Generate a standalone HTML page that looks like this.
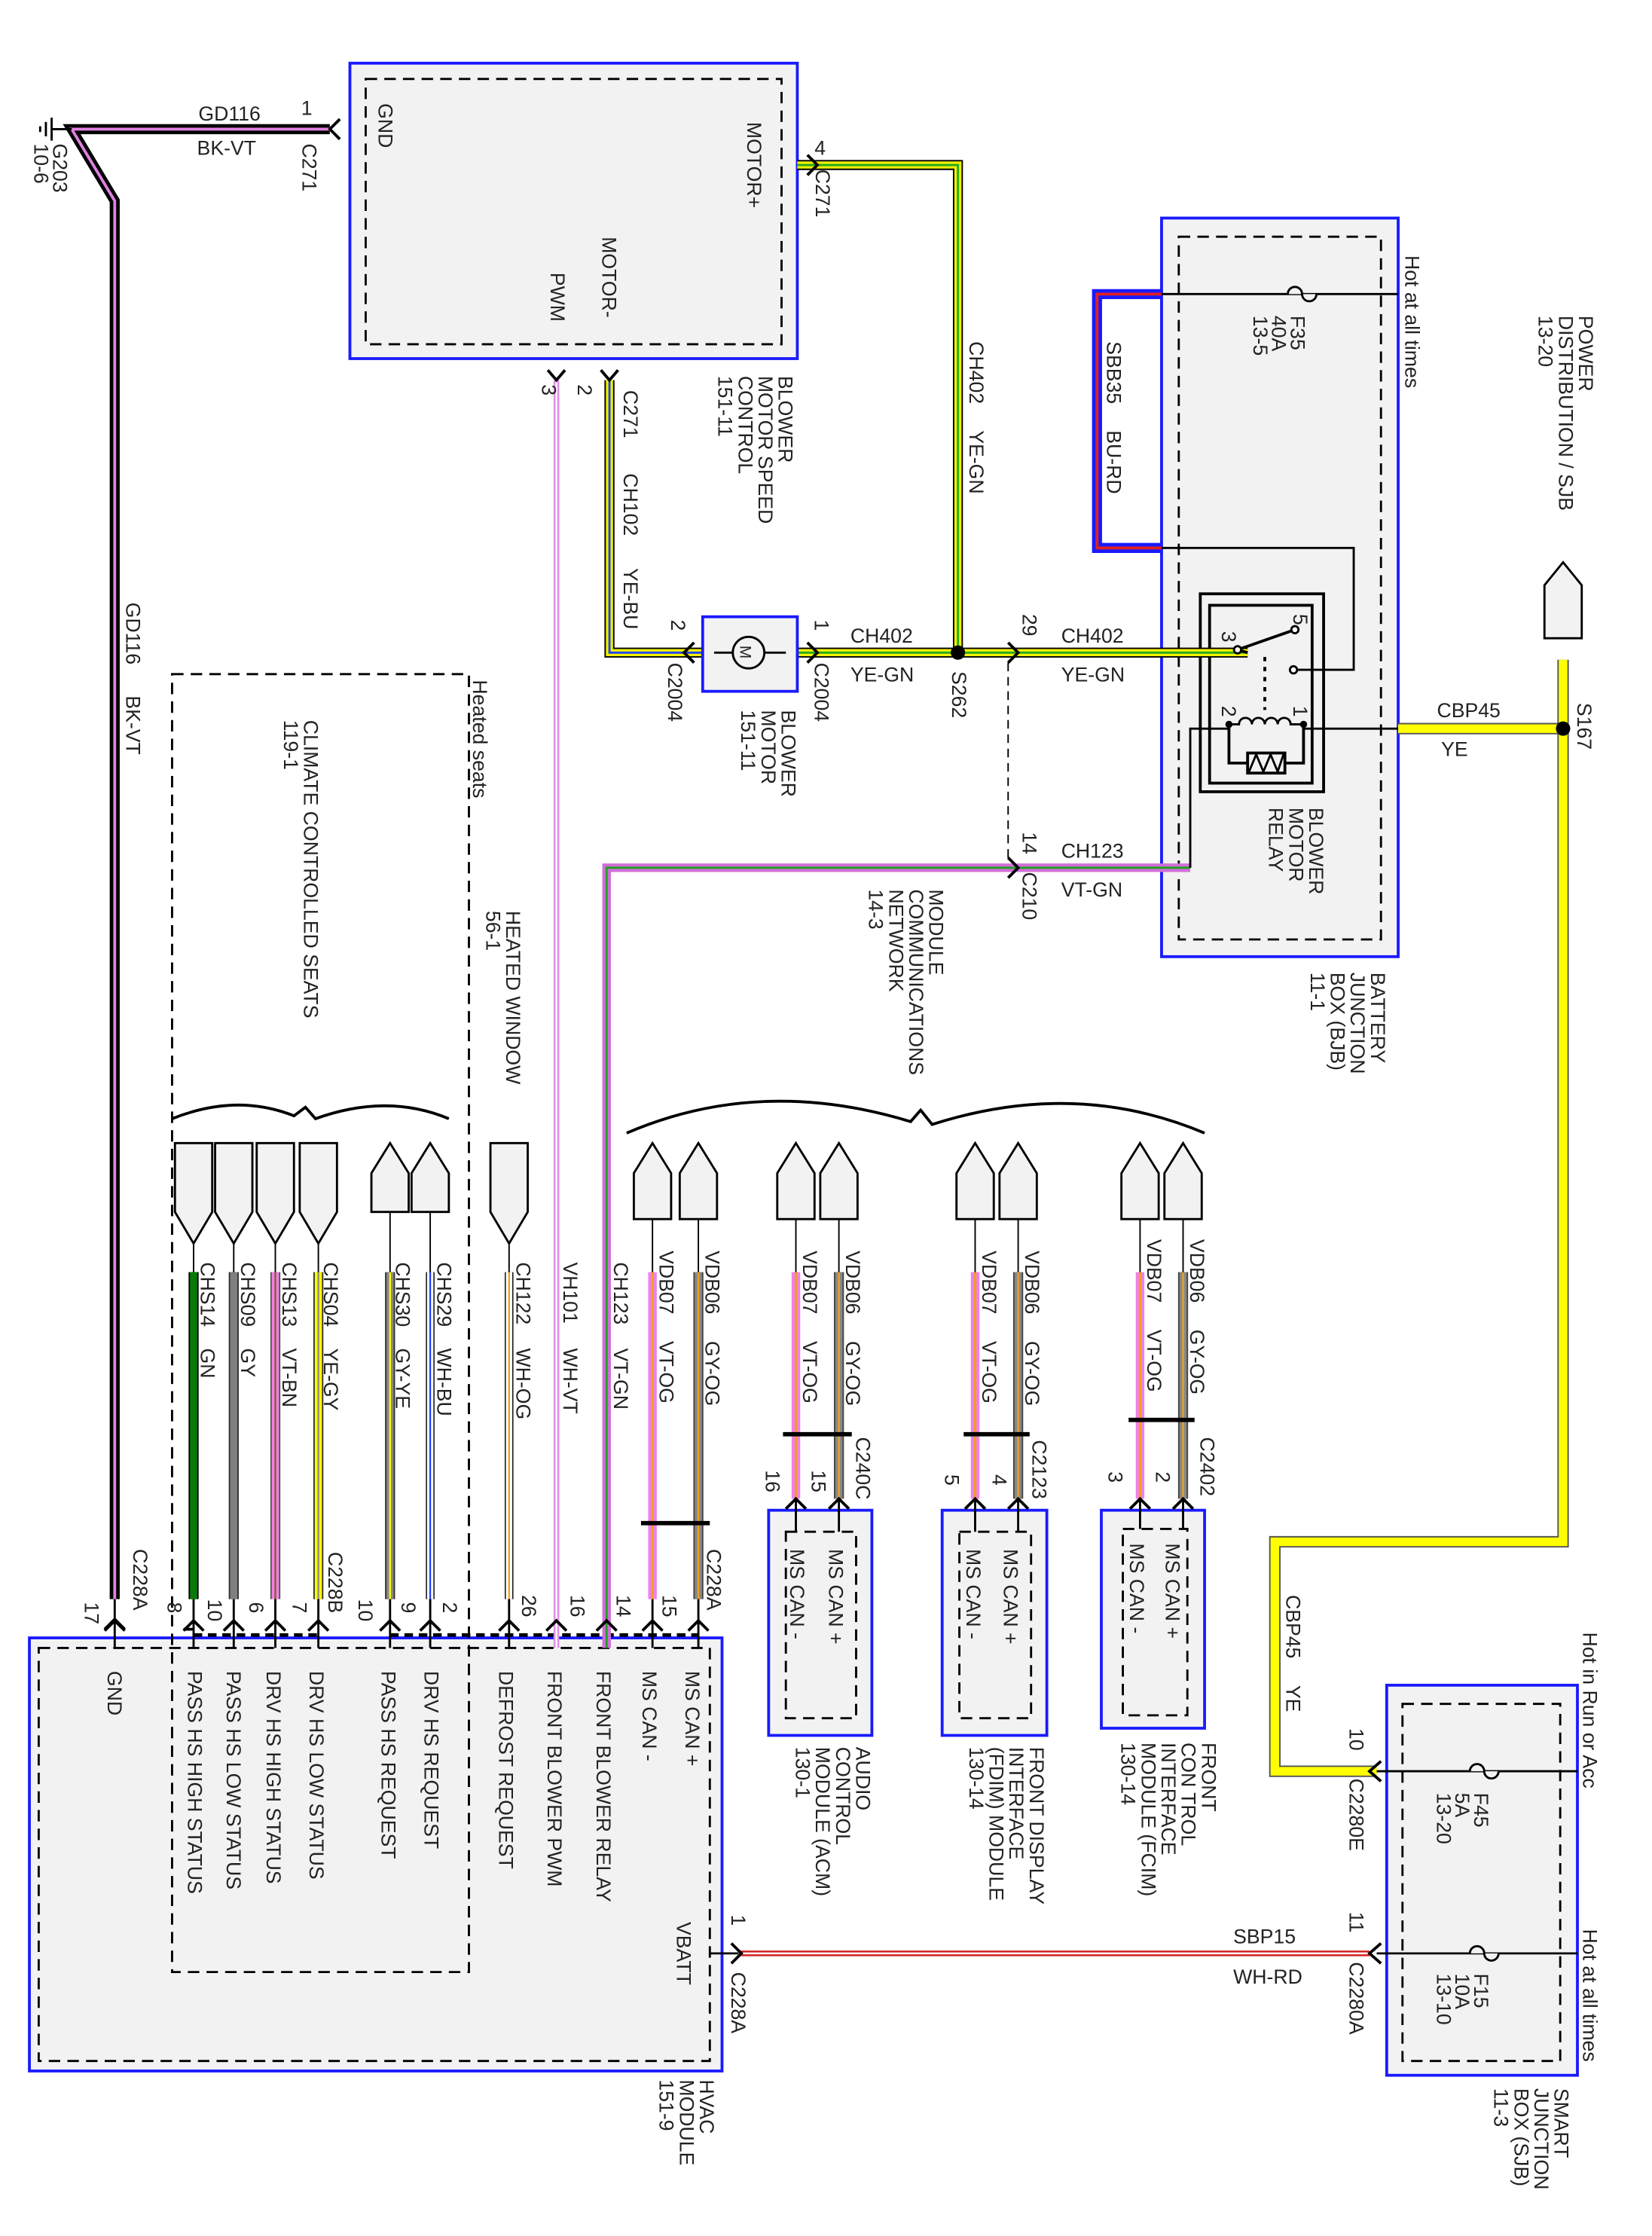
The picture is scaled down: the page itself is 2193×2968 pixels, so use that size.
<!DOCTYPE html>
<html><head><meta charset="utf-8"><style>
html,body{margin:0;padding:0;background:#fff;}
svg{display:block;}
text{font-family:"Liberation Sans",sans-serif;font-size:14px;fill:#222;}
</style></head><body>
<svg width="2193" height="2968" viewBox="0 0 1152 1559" xmlns="http://www.w3.org/2000/svg">
<rect width="1152" height="1559" fill="#fff"/>
<g fill="none" stroke-linejoin="miter">
<!-- Blower motor speed control -->
<rect x="244" y="44" width="312" height="206" fill="#f2f2f2" stroke="#1a1aff" stroke-width="2"/>
<rect x="255" y="55" width="290" height="185" stroke="#000" stroke-width="1.5" stroke-dasharray="8,5"/>
<!-- Battery junction box -->
<rect x="810" y="152" width="165" height="515" fill="#f2f2f2" stroke="#1a1aff" stroke-width="2"/>
<rect x="822" y="165" width="141" height="490" stroke="#000" stroke-width="1.5" stroke-dasharray="8,5"/>
<!-- relay -->
<rect x="837" y="414" width="86" height="138" fill="#f2f2f2" stroke="#000" stroke-width="2"/>
<rect x="843.5" y="422" width="71.5" height="124" stroke="#000" stroke-width="2"/>
<!-- HVAC -->
<rect x="20.5" y="1142" width="483" height="302" fill="#f2f2f2" stroke="#1a1aff" stroke-width="2"/>
<rect x="27" y="1149" width="468" height="288" stroke="#000" stroke-width="1.5" stroke-dasharray="8,5"/>
<rect x="120" y="470" width="207" height="905" stroke="#000" stroke-width="1.5" stroke-dasharray="8,5"/>
<!-- modules -->
<rect x="536" y="1053" width="72" height="157" fill="#f2f2f2" stroke="#1a1aff" stroke-width="2"/>
<rect x="548" y="1068" width="49" height="130" stroke="#000" stroke-width="1.5" stroke-dasharray="8,5"/>
<rect x="657" y="1053" width="73" height="157" fill="#f2f2f2" stroke="#1a1aff" stroke-width="2"/>
<rect x="669" y="1068" width="50" height="130" stroke="#000" stroke-width="1.5" stroke-dasharray="8,5"/>
<rect x="768" y="1053" width="72" height="152" fill="#f2f2f2" stroke="#1a1aff" stroke-width="2"/>
<rect x="783" y="1066" width="45" height="130" stroke="#000" stroke-width="1.5" stroke-dasharray="8,5"/>
<!-- SJB -->
<rect x="967" y="1175" width="133" height="272" fill="#f2f2f2" stroke="#1a1aff" stroke-width="2"/>
<rect x="978" y="1188" width="110" height="249" stroke="#000" stroke-width="1.5" stroke-dasharray="8,5"/>

<!-- dashed lines -->
<path d="M703 462 V600" stroke="#000" stroke-width="1" stroke-dasharray="6,4"/>
<path d="M135 1140 H222 M272 1140 H487" stroke="#000" stroke-width="2.5" stroke-dasharray="6,4"/>

<!-- GD116 -->
<path d="M230 90 H50 L80 140 V1115" stroke="#000" stroke-width="7"/>
<path d="M230 90 H50 L80 140 V1115" stroke="#e080e0" stroke-width="2"/>
<path d="M80 1115 V1149" stroke="#000" stroke-width="1.5"/>
<!-- ground -->
<path d="M50 90 H36 M36 82 V98 M32 85 V95 M28 88 V92" stroke="#000" stroke-width="1.5"/>
<!-- CH402 -->
<path d="M556 115 H668 V455 M556 455 H870" stroke="#000" stroke-width="7"/>
<path d="M556 115 H668 V455 M556 455 H870" stroke="#f0f000" stroke-width="5"/>
<path d="M556 115 H668 V455 M556 455 H870" stroke="#22aa22" stroke-width="1.5"/>
<!-- CH102 -->
<path d="M425 265 V455 H490" stroke="#000" stroke-width="7"/>
<path d="M425 265 V455 H490" stroke="#f0f000" stroke-width="5"/>
<path d="M425 265 V455 H490" stroke="#2040ff" stroke-width="1.5"/>
<!-- VH101 -->
<path d="M388 265 V1149" stroke="#e090e8" stroke-width="4"/>
<path d="M388 265 V1149" stroke="#fff" stroke-width="1.2"/>
<!-- CH123 -->
<path d="M830 605 H423 V1149" stroke="#000" stroke-width="1"/>
<path d="M830 605 H423 V1149" stroke="#d070d8" stroke-width="6"/>
<path d="M830 605 H423 V1149" stroke="#20a020" stroke-width="1.5"/>
<path d="M830 605 V508 H857" stroke="#000" stroke-width="1.5"/>
<!-- SBB35 -->
<path d="M810 205 H765 V382 H810" stroke="#1a1aff" stroke-width="7"/>
<path d="M810 205 H765 V382 H810" stroke="#e02020" stroke-width="2"/>
<path d="M810 205 H975 M810 382 H944 V467 H902" stroke="#000" stroke-width="1.5"/>
<!-- CBP45 yellow -->
<path d="M1090 460 V1075 H889 V1235 H960 M975 508 H1090" stroke="#555" stroke-width="8"/>
<path d="M1090 460 V1075 H889 V1235 H960 M975 508 H1090" stroke="#ffff00" stroke-width="6"/>
<path d="M975 508 H909" stroke="#000" stroke-width="1.5"/>
<path d="M960 1235 H1100 M960 1362 H1100" stroke="#000" stroke-width="1.5"/>
<!-- SBP15 -->
<path d="M955 1362 H515" stroke="#d02020" stroke-width="4"/>
<path d="M955 1362 H515" stroke="#fff" stroke-width="1.3"/>
<path d="M515 1362 H495" stroke="#000" stroke-width="1.5"/>
<!-- relay internals -->
<path d="M870 455 L863 453 M863 453 L903 439" stroke="#000" stroke-width="2"/>
<path d="M882 458 V495" stroke="#000" stroke-width="2" stroke-dasharray="3,4"/>
<path d="M857 505 H864 a4.5 4.5 0 0 1 9 0 a4.5 4.5 0 0 1 9 0 a4.5 4.5 0 0 1 9 0 a4.5 4.5 0 0 1 9 0 H909" stroke="#000" stroke-width="1.5"/>
<path d="M857 505 V532 H870 M896 532 H909 V505" stroke="#000" stroke-width="2"/>
<rect x="870" y="525" width="26" height="14" stroke="#000" stroke-width="2"/>
<path d="M871 538 L876 526 L881 538 L886 526 L891 538 L895 526" stroke="#000" stroke-width="1.5"/>
<circle cx="863" cy="453" r="2.5" fill="#fff" stroke="#000" stroke-width="1.5"/>
<circle cx="903" cy="439" r="2.5" fill="#fff" stroke="#000" stroke-width="1.5"/>
<circle cx="902" cy="467" r="2.5" fill="#fff" stroke="#000" stroke-width="1.5"/>
<circle cx="857" cy="505" r="2.5" fill="#000"/>
<circle cx="909" cy="505" r="2.5" fill="#000"/>
<!-- fuses -->
<path d="M898 205 a5 5 0 0 1 10 0 a5 5 0 0 0 10 0" stroke="#000" stroke-width="1.5" fill="#f2f2f2"/>
<path d="M1025 1235 a5 5 0 0 1 10 0 a5 5 0 0 0 10 0" stroke="#000" stroke-width="1.5" fill="#f2f2f2"/>
<path d="M1025 1362 a5 5 0 0 1 10 0 a5 5 0 0 0 10 0" stroke="#000" stroke-width="1.5" fill="#f2f2f2"/>
<!-- blower motor -->
<rect x="490" y="430" width="66" height="52" fill="#f2f2f2" stroke="#1a1aff" stroke-width="2"/>
<path d="M498 455 H548" stroke="#000" stroke-width="1.5"/>
<circle cx="522" cy="455" r="11" fill="#f2f2f2" stroke="#000" stroke-width="1.5"/>
<!-- splices -->
<circle cx="668" cy="455" r="5" fill="#000"/>
<circle cx="1090" cy="508" r="5" fill="#000"/>
<path d="M1077 408 L1090 392 L1103 408 V445 H1077 Z" fill="#f2f2f2" stroke="#000" stroke-width="1.5"/>

<!-- HVAC bottom wires -->
<path d="M135 887 V1115" stroke="#000" stroke-width="7"/><path d="M135 887 V1115" stroke="#0a7a0a" stroke-width="5"/>
<path d="M163 887 V1115" stroke="#333" stroke-width="7"/><path d="M163 887 V1115" stroke="#808080" stroke-width="5"/>
<path d="M192 887 V1115" stroke="#555" stroke-width="7"/><path d="M192 887 V1115" stroke="#ee80e8" stroke-width="5"/><path d="M192 887 V1115" stroke="#8a5a20" stroke-width="1.2"/>
<path d="M222 887 V1115" stroke="#333" stroke-width="7"/><path d="M222 887 V1115" stroke="#ffff00" stroke-width="5"/><path d="M222 887 V1115" stroke="#888" stroke-width="1.2"/>
<path d="M272 887 V1115" stroke="#333" stroke-width="7"/><path d="M272 887 V1115" stroke="#888" stroke-width="5"/><path d="M272 887 V1115" stroke="#ffff00" stroke-width="1.2"/>
<path d="M300 887 V1115" stroke="#000" stroke-width="6"/><path d="M300 887 V1115" stroke="#fff" stroke-width="4.5"/><path d="M300 887 V1115" stroke="#2040ff" stroke-width="1.2"/>
<path d="M355 887 V1115" stroke="#000" stroke-width="6"/><path d="M355 887 V1115" stroke="#fff" stroke-width="4.5"/><path d="M355 887 V1115" stroke="#f0a020" stroke-width="1.2"/>
<path d="M455 887 V1115 M555 887 V1045 M680 887 V1045 M795 887 V1045" stroke="#f080f0" stroke-width="6"/>
<path d="M455 887 V1115 M555 887 V1045 M680 887 V1045 M795 887 V1045" stroke="#f0a020" stroke-width="1.8"/>
<path d="M487 887 V1115 M585 887 V1045 M710 887 V1045 M825 887 V1045" stroke="#444" stroke-width="7"/>
<path d="M487 887 V1115 M585 887 V1045 M710 887 V1045 M825 887 V1045" stroke="#888" stroke-width="5"/>
<path d="M487 887 V1115 M585 887 V1045 M710 887 V1045 M825 887 V1045" stroke="#f0a020" stroke-width="1.2"/>
<!-- thin lead lines -->
<path d="M135 865 V887 M163 865 V887 M192 865 V887 M222 865 V887 M272 845 V887 M300 845 V887 M355 865 V887 M455 848 V887 M487 848 V887 M555 848 V887 M585 848 V887 M680 848 V887 M710 848 V887 M795 848 V887 M825 848 V887" stroke="#000" stroke-width="1"/>
<path d="M135 1115 V1149 M163 1115 V1149 M192 1115 V1149 M222 1115 V1149 M272 1115 V1149 M300 1115 V1149 M355 1115 V1149 M455 1115 V1149 M487 1115 V1149 M555 1045 V1068 M585 1045 V1068 M680 1045 V1068 M710 1045 V1068 M795 1045 V1066 M825 1045 V1066" stroke="#000" stroke-width="1.5"/>
<!-- connectors down-pointing -->
<g fill="#f2f2f2" stroke="#000" stroke-width="1.5">
<path d="M122 797 H148 V845 L135 867 L122 845 Z"/>
<path d="M150 797 H176 V845 L163 867 L150 845 Z"/>
<path d="M179 797 H205 V845 L192 867 L179 845 Z"/>
<path d="M209 797 H235 V845 L222 867 L209 845 Z"/>
<path d="M342 797 H368 V845 L355 867 L342 845 Z"/>
<path d="M259 845 V818 L272 797 L285 818 V845 Z"/>
<path d="M287 845 V818 L300 797 L313 818 V845 Z"/>
<path d="M442 850 V818 L455 797 L468 818 V850 Z"/>
<path d="M474 850 V818 L487 797 L500 818 V850 Z"/>
<path d="M542 850 V818 L555 797 L568 818 V850 Z"/>
<path d="M572 850 V818 L585 797 L598 818 V850 Z"/>
<path d="M667 850 V818 L680 797 L693 818 V850 Z"/>
<path d="M697 850 V818 L710 797 L723 818 V850 Z"/>
<path d="M782 850 V818 L795 797 L808 818 V850 Z"/>
<path d="M812 850 V818 L825 797 L838 818 V850 Z"/>
</g>
<!-- braces -->
<path d="M120 780 Q165 762 205 778 L213 772 L220 780 Q270 762 313 780" stroke="#000" stroke-width="2"/>
<path d="M437 790 Q530 750 635 782 L642 774 L650 784 Q750 752 840 790" stroke="#000" stroke-width="2"/>
<!-- twist marks -->
<path d="M447 1062 H495 M546 1000 H594 M672 1000 H718 M787 990 H833" stroke="#000" stroke-width="3"/>
<!-- arrows at pins (pointing up) -->
<g stroke="#000" stroke-width="2">
<path d="M73 1136 L80 1129 L87 1136 M135 1136 L128 1136 M128 1136"/>
</g>
<g stroke="#000" stroke-width="2" fill="none" id="arr">
<path d="M73 1137 L80 1130 L87 1137"/><path d="M128 1137 L135 1130 L142 1137"/><path d="M156 1137 L163 1130 L170 1137"/><path d="M185 1137 L192 1130 L199 1137"/><path d="M215 1137 L222 1130 L229 1137"/><path d="M265 1137 L272 1130 L279 1137"/><path d="M293 1137 L300 1130 L307 1137"/><path d="M348 1137 L355 1130 L362 1137"/><path d="M381 1137 L388 1130 L395 1137"/><path d="M416 1137 L423 1130 L430 1137"/><path d="M448 1137 L455 1130 L462 1137"/><path d="M480 1137 L487 1130 L494 1137"/>
<path d="M548 1052 L555 1045 L562 1052"/><path d="M578 1052 L585 1045 L592 1052"/><path d="M673 1052 L680 1045 L687 1052"/><path d="M703 1052 L710 1045 L717 1052"/><path d="M788 1052 L795 1045 L802 1052"/><path d="M818 1052 L825 1045 L832 1052"/>
<path d="M237 83 L230 90 L237 97"/><path d="M563 108 L570 115 L563 122"/><path d="M382 258 L388 265 L394 258"/><path d="M419 258 L425 265 L431 258"/>
<path d="M484 448 L477 455 L484 462"/><path d="M563 448 L570 455 L563 462"/><path d="M703 448 L710 455 L703 462"/><path d="M703 598 L710 605 L703 612"/>
<path d="M963 1228 L955 1235 L963 1242"/><path d="M963 1355 L955 1362 L963 1369"/><path d="M510 1355 L517 1362 L510 1369"/>
</g>
</g>

<!-- TEXT -->
<g>
<text x="160" y="84" text-anchor="middle">GD116</text>
<text x="158" y="108" text-anchor="middle">BK-VT</text>
<text x="210" y="80">1</text>
<text x="568" y="108">4</text>
<text x="593" y="448">CH402</text><text x="593" y="475">YE-GN</text>
<text x="740" y="448">CH402</text><text x="740" y="475">YE-GN</text>
<text x="740" y="598">CH123</text><text x="740" y="625">VT-GN</text>
<text x="1002" y="500">CBP45</text><text x="1005" y="527">YE</text>
<text x="860" y="1355">SBP15</text><text x="860" y="1383">WH-RD</text>
</g>
<g>
<!-- rotated texts: transform translate(x,y) rotate(90) -->
<text transform="translate(264,72) rotate(90)">GND</text>
<text transform="translate(521,85) rotate(90)">MOTOR+</text>
<text transform="translate(420,165) rotate(90)">MOTOR-</text>
<text transform="translate(384,190) rotate(90)">PWM</text>
<text transform="translate(211,100) rotate(90)">C271</text>
<text transform="translate(569,118) rotate(90)">C271</text>
<text transform="translate(378,268) rotate(90)">3</text>
<text transform="translate(403,268) rotate(90)">2</text>
<text transform="translate(435,272) rotate(90)">C271</text>
<text transform="translate(435,330) rotate(90)">CH102</text>
<text transform="translate(435,396) rotate(90)">YE-BU</text>
<text transform="translate(543,262) rotate(90)">BLOWER</text>
<text transform="translate(529,262) rotate(90)">MOTOR SPEED</text>
<text transform="translate(515,262) rotate(90)">CONTROL</text>
<text transform="translate(501,262) rotate(90)">151-11</text>
<text transform="translate(37,100) rotate(90)">G203</text>
<text transform="translate(24,100) rotate(90)">10-6</text>
<text transform="translate(88,420) rotate(90)">GD116</text>
<text transform="translate(88,485) rotate(90)">BK-VT</text>
<text transform="translate(676,238) rotate(90)">CH402</text>
<text transform="translate(676,300) rotate(90)">YE-GN</text>
<text transform="translate(772,238) rotate(90)">SBB35</text>
<text transform="translate(772,300) rotate(90)">BU-RD</text>
<text transform="translate(568,432) rotate(90)">1</text>
<text transform="translate(568,462) rotate(90)">C2004</text>
<text transform="translate(468,432) rotate(90)">2</text>
<text transform="translate(466,462) rotate(90)">C2004</text>
<text transform="translate(545,495) rotate(90)">BLOWER</text>
<text transform="translate(531,495) rotate(90)">MOTOR</text>
<text transform="translate(517,495) rotate(90)">151-11</text>
<text transform="translate(664,468) rotate(90)">S262</text>
<text transform="translate(713,428) rotate(90)">29</text>
<text transform="translate(713,580) rotate(90)">14</text>
<text transform="translate(713,608) rotate(90)">C210</text>
<text transform="translate(648,620) rotate(90)">MODULE</text>
<text transform="translate(634,620) rotate(90)">COMMUNICATIONS</text>
<text transform="translate(620,620) rotate(90)">NETWORK</text>
<text transform="translate(606,620) rotate(90)">14-3</text>
<text transform="translate(852,440) rotate(90)">3</text>
<text transform="translate(902,428) rotate(90)">5</text>
<text transform="translate(852,492) rotate(90)">2</text>
<text transform="translate(902,492) rotate(90)">1</text>
<text transform="translate(913,563) rotate(90)">BLOWER</text>
<text transform="translate(899,563) rotate(90)">MOTOR</text>
<text transform="translate(885,563) rotate(90)">RELAY</text>
<text transform="translate(956,678) rotate(90)">BATTERY</text>
<text transform="translate(942,678) rotate(90)">JUNCTION</text>
<text transform="translate(928,678) rotate(90)">BOX (BJB)</text>
<text transform="translate(914,678) rotate(90)">11-1</text>
<text transform="translate(900,220) rotate(90)">F35</text>
<text transform="translate(887,220) rotate(90)">40A</text>
<text transform="translate(874,220) rotate(90)">13-5</text>
<text transform="translate(980,178) rotate(90)">Hot at all times</text>
<text transform="translate(1101,220) rotate(90)">POWER</text>
<text transform="translate(1087,220) rotate(90)">DISTRIBUTION / SJB</text>
<text transform="translate(1073,220) rotate(90)">13-20</text>
<text transform="translate(1100,490) rotate(90)">S167</text>
<text transform="translate(330,474) rotate(90)">Heated seats</text>
<text transform="translate(212,502) rotate(90)">CLIMATE CONTROLLED SEATS</text>
<text transform="translate(198,502) rotate(90)">119-1</text>
<text transform="translate(353,635) rotate(90)">HEATED WINDOW</text>
<text transform="translate(339,635) rotate(90)">56-1</text>

<text transform="translate(140,880) rotate(90)">CHS14</text><text transform="translate(140,940) rotate(90)">GN</text>
<text transform="translate(168,880) rotate(90)">CHS09</text><text transform="translate(168,940) rotate(90)">GY</text>
<text transform="translate(197,880) rotate(90)">CHS13</text><text transform="translate(197,940) rotate(90)">VT-BN</text>
<text transform="translate(226,880) rotate(90)">CHS04</text><text transform="translate(226,940) rotate(90)">YE-GY</text>
<text transform="translate(276,880) rotate(90)">CHS30</text><text transform="translate(276,940) rotate(90)">GY-YE</text>
<text transform="translate(305,880) rotate(90)">CHS29</text><text transform="translate(305,940) rotate(90)">WH-BU</text>
<text transform="translate(360,880) rotate(90)">CH122</text><text transform="translate(360,940) rotate(90)">WH-OG</text>
<text transform="translate(393,880) rotate(90)">VH101</text><text transform="translate(393,940) rotate(90)">WH-VT</text>
<text transform="translate(428,880) rotate(90)">CH123</text><text transform="translate(428,940) rotate(90)">VT-GN</text>
<text transform="translate(460,872) rotate(90)">VDB07</text><text transform="translate(460,935) rotate(90)">VT-OG</text>
<text transform="translate(492,872) rotate(90)">VDB06</text><text transform="translate(492,935) rotate(90)">GY-OG</text>
<text transform="translate(560,872) rotate(90)">VDB07</text><text transform="translate(560,935) rotate(90)">VT-OG</text>
<text transform="translate(590,872) rotate(90)">VDB06</text><text transform="translate(590,935) rotate(90)">GY-OG</text>
<text transform="translate(685,872) rotate(90)">VDB07</text><text transform="translate(685,935) rotate(90)">VT-OG</text>
<text transform="translate(715,872) rotate(90)">VDB06</text><text transform="translate(715,935) rotate(90)">GY-OG</text>
<text transform="translate(800,864) rotate(90)">VDB07</text><text transform="translate(800,927) rotate(90)">VT-OG</text>
<text transform="translate(830,864) rotate(90)">VDB06</text><text transform="translate(830,927) rotate(90)">GY-OG</text>

<text transform="translate(93,1080) rotate(90)">C228A</text>
<text transform="translate(229,1082) rotate(90)">C228B</text>
<text transform="translate(493,1080) rotate(90)">C228A</text>
<text transform="translate(59,1117) rotate(90)">17</text>
<text transform="translate(117,1117) rotate(90)">8</text>
<text transform="translate(145,1115) rotate(90)">10</text>
<text transform="translate(174,1117) rotate(90)">6</text>
<text transform="translate(204,1117) rotate(90)">7</text>
<text transform="translate(250,1115) rotate(90)">10</text>
<text transform="translate(280,1117) rotate(90)">9</text>
<text transform="translate(309,1117) rotate(90)">2</text>
<text transform="translate(364,1112) rotate(90)">26</text>
<text transform="translate(398,1112) rotate(90)">16</text>
<text transform="translate(430,1112) rotate(90)">14</text>
<text transform="translate(462,1112) rotate(90)">15</text>
<text transform="translate(534,1025) rotate(90)">16</text>
<text transform="translate(566,1025) rotate(90)">15</text>
<text transform="translate(597,1002) rotate(90)">C240C</text>
<text transform="translate(659,1028) rotate(90)">5</text>
<text transform="translate(692,1028) rotate(90)">4</text>
<text transform="translate(720,1004) rotate(90)">C2123</text>
<text transform="translate(773,1026) rotate(90)">3</text>
<text transform="translate(806,1026) rotate(90)">2</text>
<text transform="translate(837,1002) rotate(90)">C2402</text>

<text transform="translate(75,1165) rotate(90)">GND</text>
<text transform="translate(131,1165) rotate(90)">PASS HS HIGH STATUS</text>
<text transform="translate(158,1165) rotate(90)">PASS HS LOW STATUS</text>
<text transform="translate(186,1165) rotate(90)">DRV HS HIGH STATUS</text>
<text transform="translate(216,1165) rotate(90)">DRV HS LOW STATUS</text>
<text transform="translate(266,1165) rotate(90)">PASS HS REQUEST</text>
<text transform="translate(296,1165) rotate(90)">DRV HS REQUEST</text>
<text transform="translate(348,1165) rotate(90)">DEFROST REQUEST</text>
<text transform="translate(382,1165) rotate(90)">FRONT BLOWER PWM</text>
<text transform="translate(416,1165) rotate(90)">FRONT BLOWER RELAY</text>
<text transform="translate(448,1165) rotate(90)">MS CAN -</text>
<text transform="translate(478,1165) rotate(90)">MS CAN +</text>
<text transform="translate(472,1340) rotate(90)">VBATT</text>
<text transform="translate(510,1335) rotate(90)">1</text>
<text transform="translate(510,1375) rotate(90)">C228A</text>
<text transform="translate(488,1450) rotate(90)">HVAC</text>
<text transform="translate(474,1450) rotate(90)">MODULE</text>
<text transform="translate(460,1450) rotate(90)">151-9</text>

<text transform="translate(578,1080) rotate(90)">MS CAN +</text>
<text transform="translate(551,1080) rotate(90)">MS CAN -</text>
<text transform="translate(700,1080) rotate(90)">MS CAN +</text>
<text transform="translate(674,1080) rotate(90)">MS CAN -</text>
<text transform="translate(813,1076) rotate(90)">MS CAN +</text>
<text transform="translate(788,1076) rotate(90)">MS CAN -</text>
<text transform="translate(597,1218) rotate(90)">AUDIO</text>
<text transform="translate(583,1218) rotate(90)">CONTROL</text>
<text transform="translate(569,1218) rotate(90)">MODULE (ACM)</text>
<text transform="translate(555,1218) rotate(90)">130-1</text>
<text transform="translate(718,1218) rotate(90)">FRONT DISPLAY</text>
<text transform="translate(704,1218) rotate(90)">INTERFACE</text>
<text transform="translate(690,1218) rotate(90)">(FDIM) MODULE</text>
<text transform="translate(676,1218) rotate(90)">130-14</text>
<text transform="translate(838,1215) rotate(90)">FRONT</text>
<text transform="translate(824,1215) rotate(90)">CON TROL</text>
<text transform="translate(810,1215) rotate(90)">INTERFACE</text>
<text transform="translate(796,1215) rotate(90)">MODULE (FCIM)</text>
<text transform="translate(782,1215) rotate(90)">130-14</text>

<text transform="translate(897,1112) rotate(90)">CBP45</text>
<text transform="translate(897,1175) rotate(90)">YE</text>
<text transform="translate(941,1205) rotate(90)">10</text>
<text transform="translate(941,1240) rotate(90)">C2280E</text>
<text transform="translate(941,1333) rotate(90)">11</text>
<text transform="translate(941,1368) rotate(90)">C2280A</text>
<text transform="translate(1028,1250) rotate(90)">F45</text>
<text transform="translate(1015,1250) rotate(90)">5A</text>
<text transform="translate(1002,1250) rotate(90)">13-20</text>
<text transform="translate(1028,1376) rotate(90)">F15</text>
<text transform="translate(1015,1376) rotate(90)">10A</text>
<text transform="translate(1002,1376) rotate(90)">13-10</text>
<text transform="translate(1104,1138) rotate(90)">Hot in Run or Acc</text>
<text transform="translate(1104,1345) rotate(90)">Hot at all times</text>
<text transform="translate(1084,1456) rotate(90)">SMART</text>
<text transform="translate(1070,1456) rotate(90)">JUNCTION</text>
<text transform="translate(1056,1456) rotate(90)">BOX (SJB)</text>
<text transform="translate(1042,1456) rotate(90)">11-3</text>
<text transform="translate(516,450) rotate(90)" style="font-size:11px">M</text>
</g>
</svg>
</body></html>
